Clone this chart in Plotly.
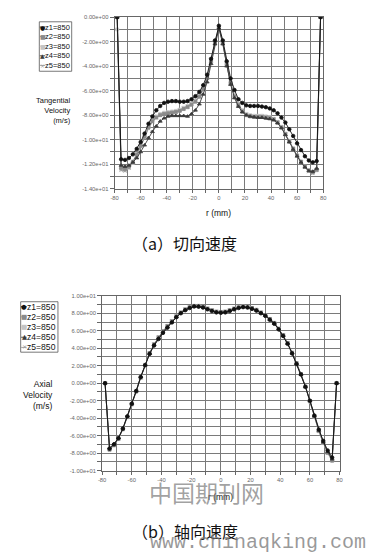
import plotly.graph_objects as go

# ---------------- data ----------------
r_mm = [-78, -75, -72, -69, -66, -63, -60, -57, -54, -51, -48, -45, -42, -39, -36, -33, -30, -27,
        -24, -21, -18, -15, -12, -9, -6, -3, 0, 3, 6, 9, 12, 15, 18, 21, 24, 27, 30, 33, 36, 39,
        42, 45, 48, 51, 54, 57, 60, 63, 66, 69, 72, 75, 78]

series_names = ["z1=850", "z2=850", "z3=850", "z4=850", "z5=850"]

tan_z1 = [0, -11.6, -11.65, -11.5, -11.2, -10.75, -10.2, -9.5, -8.7, -8.1, -7.6, -7.25, -7.0, -6.9,
          -6.85, -6.85, -6.9, -6.9, -6.85, -6.7, -6.45, -6.1, -5.55, -4.7, -3.4, -1.9, -0.7, -1.9,
          -3.6, -5.0, -5.95, -6.7, -7.0, -7.2, -7.25, -7.25, -7.25, -7.3, -7.35, -7.45, -7.6, -7.85,
          -8.2, -8.6, -9.15, -9.7, -10.3, -10.85, -11.35, -11.7, -11.85, -11.75, 0]
tan_z2 = [0, -12.3, -12.4, -12.2, -11.8, -11.2, -10.5, -9.75, -9.0, -8.5, -8.2, -8.0, -7.9, -7.85,
          -7.8, -7.75, -7.65, -7.5, -7.35, -7.15, -6.9, -6.5, -5.9, -5.0, -3.6, -2.1, -0.9, -2.1,
          -3.9, -5.4, -6.5, -7.2, -7.7, -8.0, -8.1, -8.15, -8.15, -8.15, -8.2, -8.25, -8.35, -8.6,
          -9.0, -9.55, -10.15, -10.75, -11.3, -11.8, -12.2, -12.5, -12.65, -12.45, 0]
tan_z3 = [-1.0, -12.4, -12.5, -12.3, -11.9, -11.3, -10.5, -9.7, -9.0, -8.45, -8.1, -7.9, -7.8, -7.75,
          -7.7, -7.65, -7.55, -7.4, -7.25, -7.05, -6.8, -6.4, -5.8, -4.9, -3.5, -2.0, -0.8, -2.0,
          -3.8, -5.3, -6.4, -7.1, -7.6, -7.9, -8.0, -8.05, -8.05, -8.05, -8.1, -8.15, -8.3, -8.55,
          -8.95, -9.5, -10.1, -10.7, -11.3, -11.8, -12.2, -12.55, -12.7, -12.5, 0]
tan_z4 = [0, -12.1, -12.2, -12.1, -11.85, -11.5, -11.0, -10.45, -9.85, -9.35, -8.9, -8.5, -8.25, -8.1,
          -8.05, -8.05, -8.05, -8.05, -8.1, -7.9, -7.6, -7.1, -6.3, -5.3, -3.8, -2.2, -0.9, -2.2,
          -4.0, -5.5, -6.6, -7.3, -7.75, -8.0, -8.1, -8.15, -8.2, -8.2, -8.25, -8.3, -8.4, -8.65,
          -9.05, -9.6, -10.2, -10.8, -11.35, -11.85, -12.25, -12.55, -12.6, -12.35, 0]
tan_z5 = [0, -12.5, -12.55, -12.3, -11.9, -11.3, -10.6, -9.85, -9.1, -8.55, -8.2, -8.0, -7.9, -7.85,
          -7.8, -7.75, -7.6, -7.45, -7.3, -7.1, -6.85, -6.45, -5.85, -4.95, -3.55, -2.05, -0.85, -2.05,
          -3.85, -5.35, -6.45, -7.15, -7.65, -7.95, -8.05, -8.1, -8.1, -8.1, -8.15, -8.2, -8.3, -8.55,
          -9.0, -9.55, -10.15, -10.75, -11.3, -11.85, -12.25, -12.6, -12.75, -12.5, 0]

ax_z1 = [0, -7.5, -7.0, -6.3, -5.2, -3.8, -2.35, -0.9, 0.7, 2.05, 3.35, 4.3, 5.05, 5.75, 6.35, 6.95,
         7.55, 8.0, 8.35, 8.6, 8.78, 8.75, 8.65, 8.45, 8.25, 8.1, 8.05, 8.1, 8.25, 8.45, 8.6, 8.7,
         8.65, 8.5, 8.3, 8.0, 7.7, 7.25, 6.8, 6.15, 5.4, 4.5, 3.4, 2.2, 1.0, -0.4, -2.0, -3.7, -5.3,
         -6.6, -7.7, -8.5, 0]
ax_z2 = [0, -7.6, -7.1, -6.35, -5.25, -3.85, -2.4, -0.95, 0.65, 2.1, 3.45, 4.45, 5.25, 5.95, 6.55,
         7.1, 7.65, 8.1, 8.45, 8.7, 8.85, 8.85, 8.75, 8.55, 8.35, 8.2, 8.15, 8.2, 8.35, 8.55, 8.7,
         8.8, 8.75, 8.6, 8.4, 8.1, 7.8, 7.35, 6.9, 6.25, 5.5, 4.6, 3.5, 2.3, 1.05, -0.4, -2.05, -3.8,
         -5.45, -6.8, -7.95, -8.85, 0]
ax_z3 = [0, -7.65, -7.1, -6.4, -5.3, -3.9, -2.45, -0.95, 0.6, 2.05, 3.4, 4.4, 5.2, 5.9, 6.5, 7.05,
         7.6, 8.05, 8.4, 8.65, 8.8, 8.8, 8.7, 8.5, 8.3, 8.15, 8.1, 8.15, 8.3, 8.5, 8.65, 8.75, 8.7,
         8.55, 8.35, 8.05, 7.75, 7.3, 6.85, 6.2, 5.45, 4.55, 3.45, 2.25, 1.0, -0.45, -2.1, -3.85,
         -5.5, -6.85, -8.0, -8.9, 0]
ax_z4 = [0, -7.4, -6.95, -6.25, -5.15, -3.75, -2.3, -0.85, 0.75, 2.1, 3.4, 4.4, 5.15, 5.85, 6.45,
         7.0, 7.6, 8.05, 8.4, 8.65, 8.8, 8.8, 8.7, 8.5, 8.3, 8.15, 8.1, 8.15, 8.3, 8.5, 8.65, 8.75,
         8.7, 8.55, 8.35, 8.05, 7.75, 7.3, 6.85, 6.2, 5.45, 4.55, 3.45, 2.25, 1.0, -0.4, -2.0, -3.75,
         -5.4, -6.75, -7.85, -8.7, 0]
ax_z5 = [0, -7.55, -7.05, -6.35, -5.25, -3.85, -2.4, -0.9, 0.65, 2.1, 3.45, 4.45, 5.25, 5.95, 6.55,
         7.1, 7.65, 8.1, 8.45, 8.7, 8.85, 8.85, 8.75, 8.55, 8.35, 8.2, 8.15, 8.2, 8.35, 8.55, 8.7,
         8.8, 8.75, 8.6, 8.4, 8.1, 7.8, 7.35, 6.9, 6.25, 5.5, 4.6, 3.5, 2.3, 1.05, -0.4, -2.05, -3.8,
         -5.45, -6.8, -7.95, -8.8, 0]

# gridline positions and their labels ("" = unlabeled gridline)
x_grid_vals = [-80, -70, -60, -50, -40, -30, -20, -10, 0, 10, 20, 30, 40, 50, 60, 70, 80]
x_grid_labels = ["-80", "", "-60", "", "-40", "", "-20", "", "0", "", "20", "", "40", "", "60", "", "80"]
tan_grid_vals = [0, -1, -2, -3, -4, -5, -6, -7, -8, -9, -10, -11, -12, -13, -14]
tan_grid_labels = ["0.00e+00", "", "-2.00e+00", "", "-4.00e+00", "", "-6.00e+00", "", "-8.00e+00", "",
                   "-1.00e+01", "", "-1.20e+01", "", "-1.40e+01"]
ax_grid_vals = [10, 9, 8, 7, 6, 5, 4, 3, 2, 1, 0, -1, -2, -3, -4, -5, -6, -7, -8, -9, -10]
ax_grid_labels = ["1.00e+01", "", "8.00e+00", "", "6.00e+00", "", "4.00e+00", "", "2.00e+00", "",
                  "0.00e+00", "", "-2.00e+00", "", "-4.00e+00", "", "-6.00e+00", "", "-8.00e+00", "",
                  "-1.00e+01"]

# ---------------- styles ----------------
FONT = "Liberation Sans, Arial, sans-serif"
styles = [
    dict(color="#111111", symbol="circle", size=3.5, glyph="●"),
    dict(color="#8a8a8a", symbol="square", size=3, glyph="■"),
    dict(color="#c4c4c4", symbol="square", size=3, glyph="■"),
    dict(color="#3a3a3a", symbol="triangle-up", size=3.5, glyph="▲"),
    dict(color="#9a9a9a", symbol="x-thin", size=3.5, glyph="×"),
]
W, H = 372, 554
GRID = "#7a7a7a"


def px(x):
    return x / W


def py(y):
    return 1 - y / H


fig = go.Figure()

tan_series = [tan_z1, tan_z2, tan_z3, tan_z4, tan_z5]
ax_series = [ax_z1, ax_z2, ax_z3, ax_z4, ax_z5]
order = [2, 4, 1, 3, 0]
for xa, ya, data in (("x", "y", tan_series), ("x2", "y2", ax_series)):
    for i in order:
        st = styles[i]
        mk = dict(color=st["color"], symbol=st["symbol"], size=st["size"],
                  line=dict(color=st["color"], width=0.8))
        fig.add_trace(go.Scatter(x=r_mm, y=data[i], mode="lines+markers", name=series_names[i],
                                 line=dict(color=st["color"], width=0.9), marker=mk,
                                 xaxis=xa, yaxis=ya, showlegend=False))

# compact legends (box + line stubs + symbols + texts) in page coordinates
legend_boxes = [
    dict(x0=36, x1=69, y0=19, y1=69, rows=[24.3, 34.0, 43.7, 53.4, 63.1], mx=39.5, fs=7.5, gs=6),
    dict(x0=17, x1=55, y0=302, y1=353, rows=[307, 317.3, 327.6, 337.9, 348.2], mx=20.5, fs=8.6, gs=6.5),
]
shapes = []
annotations = []
for lb in legend_boxes:
    shapes.append(dict(type="rect", xref="paper", yref="paper", x0=px(lb["x0"]), x1=px(lb["x1"]),
                       y0=py(lb["y1"]), y1=py(lb["y0"]), line=dict(color="#555", width=0.8)))
    for i, yy in enumerate(lb["rows"]):
        st = styles[i]
        shapes.append(dict(type="line", xref="paper", yref="paper", x0=px(lb["x0"] + 0.5),
                           x1=px(lb["mx"] + 2.5), y0=py(yy), y1=py(yy),
                           line=dict(color=st["color"], width=0.9)))
        annotations.append(dict(xref="paper", yref="paper", x=px(lb["mx"]), y=py(yy), text=st["glyph"],
                                showarrow=False, xanchor="center", yanchor="middle", borderpad=0,
                                font=dict(family="DejaVu Sans", size=lb["gs"], color=st["color"])))
        annotations.append(dict(xref="paper", yref="paper", x=px(lb["mx"] + 1.5), y=py(yy),
                                text=series_names[i], showarrow=False, xanchor="left", yanchor="middle",
                                borderpad=0, font=dict(family=FONT, size=lb["fs"], color="#111")))

annotations += [
    dict(xref="paper", yref="paper", x=px(70), y=py(109), text="Tangential<br>Velocity<br>(m/s)",
         showarrow=False, xanchor="right", yanchor="middle", align="right",
         font=dict(family=FONT, size=7.5, color="#111")),
    dict(xref="paper", yref="paper", x=px(52), y=py(396), text="Axial<br>Velocity<br>(m/s)",
         showarrow=False, xanchor="right", yanchor="middle", align="right",
         font=dict(family=FONT, size=8.5, color="#111")),
    dict(xref="paper", yref="paper", x=px(219), y=py(212), text="r (mm)", showarrow=False,
         xanchor="center", yanchor="middle", font=dict(family=FONT, size=8.5, color="#111")),
    dict(xref="paper", yref="paper", x=px(221), y=py(499), text="r (mm)", showarrow=False,
         xanchor="center", yanchor="middle", font=dict(family=FONT, size=8.5, color="#111")),
    dict(xref="paper", yref="paper", x=px(184), y=py(243), text="（a）切向速度", showarrow=False,
         xanchor="center", yanchor="middle", font=dict(family="Noto Sans CJK SC", size=16, color="#111")),
    dict(xref="paper", yref="paper", x=px(184), y=py(534), text="（b）轴向速度", showarrow=False,
         xanchor="center", yanchor="middle", font=dict(family="Noto Sans CJK SC", size=16, color="#111")),
    dict(xref="paper", yref="paper", x=px(206), y=py(494), text="中国期刊网", showarrow=False,
         xanchor="center", yanchor="middle",
         font=dict(family="Noto Sans CJK SC", size=23, color="rgba(120,120,120,0.7)")),
    dict(xref="paper", yref="paper", x=px(371), y=py(545), text="www.chinaqking.com", showarrow=False,
         xanchor="right", yanchor="middle",
         font=dict(family="Liberation Mono", size=20, color="rgba(120,120,120,0.75)")),
]

tickfont = dict(family=FONT, size=5.8, color="#666")


def xax(domain, anchor):
    return dict(domain=domain, anchor=anchor, range=[-80, 80], tickmode="array",
                tickvals=x_grid_vals, ticktext=x_grid_labels,
                showgrid=True, gridcolor=GRID, gridwidth=1,
                zeroline=False, showline=True, linecolor="#666", linewidth=1, mirror=True,
                ticks="outside", ticklen=3, tickcolor="#666", tickfont=tickfont, fixedrange=True)


def yax(domain, anchor, rng, vals, labels):
    return dict(domain=domain, anchor=anchor, range=rng, tickmode="array",
                tickvals=vals, ticktext=labels,
                showgrid=True, gridcolor=GRID, gridwidth=1,
                zeroline=False, showline=True, linecolor="#666", linewidth=1, mirror=True,
                ticks="outside", ticklen=4, tickcolor="#666", tickfont=tickfont, fixedrange=True)


top_x = [px(112.7), px(325.3)]
top_y = [py(187.7), py(14.3)]
bot_x = [px(100), px(342)]
bot_y = [py(472.7), py(296)]

fig.update_layout(
    width=W, height=H, autosize=False,
    margin=dict(l=0, r=0, t=0, b=0),
    paper_bgcolor="white", plot_bgcolor="white",
    showlegend=False,
    xaxis=xax(top_x, "y"),
    yaxis=yax(top_y, "x", [-14, 0], tan_grid_vals, tan_grid_labels),
    xaxis2=xax(bot_x, "y2"),
    yaxis2=yax(bot_y, "x2", [-10, 10], ax_grid_vals, ax_grid_labels),
    shapes=shapes,
    annotations=annotations,
)

fig.write_html("out.html", config={"displayModeBar": False},
               post_script="document.body.style.margin='0';document.body.style.overflow='hidden';")
